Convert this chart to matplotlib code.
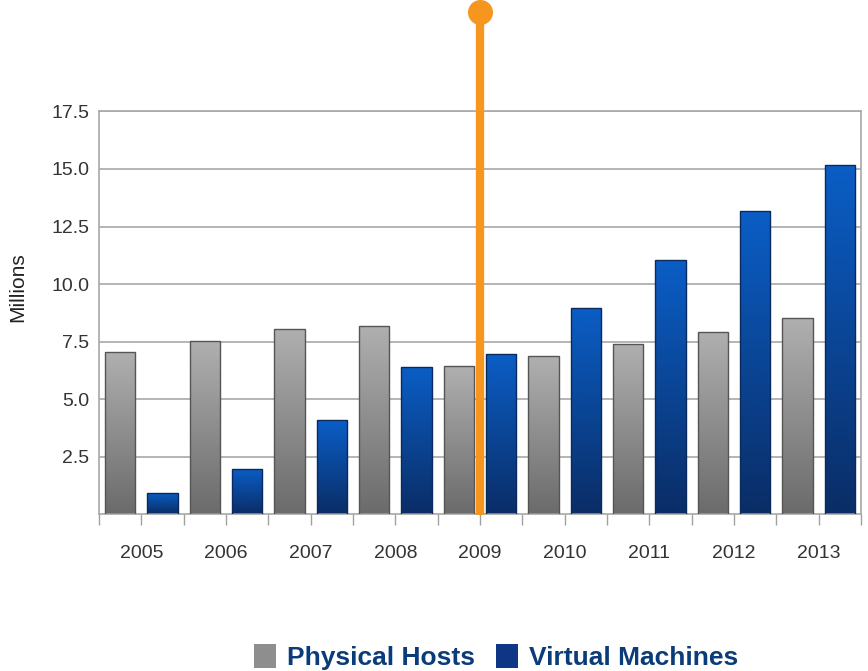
import matplotlib.pyplot as plt
import matplotlib.transforms as mtransforms
from matplotlib.colors import LinearSegmentedColormap
from matplotlib.patches import Patch
import numpy as np

plt.rcParams['font.family'] = ['Liberation Sans', 'DejaVu Sans']

years = ['2005', '2006', '2007', '2008', '2009', '2010', '2011', '2012', '2013']
physical_hosts = [7.07, 7.52, 8.04, 8.17, 6.45, 6.86, 7.39, 7.91, 8.52]
virtual_machines = [0.92, 1.98, 4.08, 6.42, 6.97, 8.95, 11.06, 13.18, 15.16]
y_ticks = [2.5, 5.0, 7.5, 10.0, 12.5, 15.0, 17.5]
crossover_year = '2009'

gray_cmap = LinearSegmentedColormap.from_list('g', ['#6b6b6b', '#b0b0b0'])
blue_cmap = LinearSegmentedColormap.from_list('b', ['#0a2d66', '#0a5ec6'])

fig = plt.figure(figsize=(8.68, 6.71), dpi=100)
ax = fig.add_axes([0.114, 0.2335, 0.878, 0.6005])

# bars sit in their own slot, physical then virtual for each year
n = len(years)
x_phys = np.arange(n) * 2 + 0.5
x_vm = np.arange(n) * 2 + 1.5
width = 0.72

grad = np.linspace(0, 1, 256).reshape(-1, 1)
for xs, vals, cmap, edge in [(x_phys, physical_hosts, gray_cmap, '#555555'),
                             (x_vm, virtual_machines, blue_cmap, '#0a2a5e')]:
    bars = ax.bar(xs, vals, width=width, color='none', edgecolor=edge,
                  linewidth=1.0, zorder=3)
    for b in bars:
        x0 = b.get_x()
        h = b.get_height()
        im = ax.imshow(grad, extent=[x0, x0 + b.get_width(), 0, h], origin='lower',
                       cmap=cmap, aspect='auto', zorder=2)
        im.set_clip_path(b)

ax.set_xlim(0, 2 * n)
ax.set_ylim(0, 17.5)

ax.set_yticks(y_ticks)
ax.set_yticklabels([f'{v:.1f}' for v in y_ticks], fontsize=14, color='#333333')
ax.tick_params(axis='y', length=0, pad=7)
ax.yaxis.grid(True, color='#a8a8a8', linewidth=1.2, zorder=0)
ax.set_axisbelow(True)

ax.set_xticks(np.arange(0, 2 * n + 1))
ax.set_xticklabels(['' if i % 2 == 0 else years[i // 2] for i in range(2 * n + 1)],
                   fontsize=14, color='#333333')
ax.tick_params(axis='x', length=8, width=1, color='#a0a0a0', pad=14)

for s in ax.spines.values():
    s.set_color('#a8a8a8')
    s.set_linewidth(1.2)

ax.set_ylabel('Millions', fontsize=15, color='#222222')
ax.yaxis.set_label_coords(-0.094, 0.565)

# orange marker line at the crossover year
xc = years.index(crossover_year) * 2 + 1
trans = mtransforms.blended_transform_factory(ax.transData, fig.transFigure)
ax.plot([xc, xc], [1 - 514.5 / 671, 1 - 12 / 671], transform=trans, color='#f7961e',
        linewidth=6, clip_on=False, zorder=5, solid_capstyle='butt')
ax.plot([xc], [1 - 12 / 671], transform=trans, marker='o', markersize=17,
        color='#f7961e', clip_on=False, zorder=6)

handles = [Patch(facecolor='#8e8e8e', edgecolor='none'),
           Patch(facecolor='#0f3586', edgecolor='none')]
leg = fig.legend(handles, ['Physical Hosts', 'Virtual Machines'], loc='center',
                 bbox_to_anchor=(0.5715, 0.021), ncol=2, frameon=False,
                 handlelength=0.85, handleheight=1.0, handletextpad=0.4,
                 columnspacing=0.8, prop={'size': 19, 'weight': 'bold'},
                 labelcolor='#0b3c7a')

fig.savefig('out.png', dpi=100)
